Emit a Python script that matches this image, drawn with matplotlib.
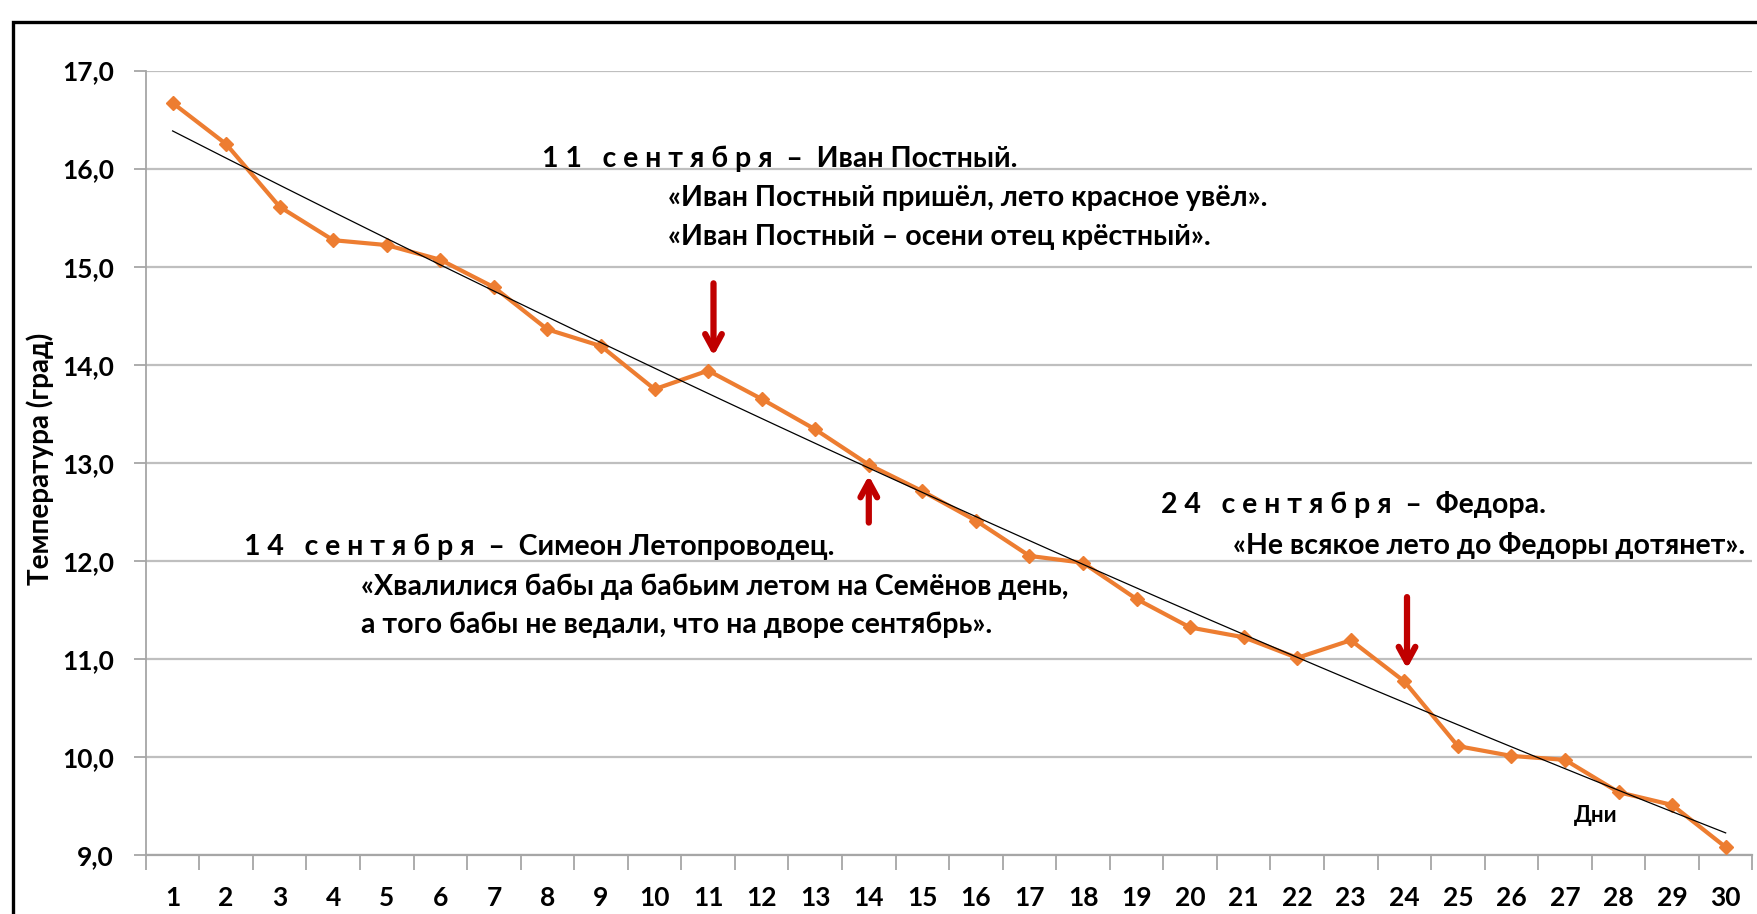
import numpy as np
import matplotlib
matplotlib.use("Agg")
import matplotlib.pyplot as plt
from matplotlib.patches import Rectangle

# средняя температура по дням сентября
days = list(range(1, 31))
temps = [16.67, 16.25, 15.61, 15.27, 15.22, 15.07, 14.79, 14.36, 14.19, 13.75,
         13.94, 13.65, 13.34, 12.98, 12.71, 12.41, 12.05, 11.98, 11.61, 11.32,
         11.22, 11.01, 11.19, 10.77, 10.11, 10.01, 9.97, 9.64, 9.51, 9.08]
yticks = [9, 10, 11, 12, 13, 14, 15, 16, 17]
ytick_labels = ["9,0", "10,0", "11,0", "12,0", "13,0", "14,0", "15,0", "16,0", "17,0"]

# дни с пометками (стрелки)
arrow_days = [11.1, 14, 24.05]
arrow_from = [14.83, 12.39, 11.63]
arrow_to = [14.09, 12.87, 10.90]

plt.rcParams['font.family'] = ['Lato', 'DejaVu Sans']
plt.rcParams['font.weight'] = 'bold'

fig = plt.figure(figsize=(17.57, 9.14), dpi=100)
ax = fig.add_axes([0.083, 0.0646, 0.9144, 0.8582])

# рамка вокруг всей диаграммы
fig.patches.append(Rectangle((0.0072, -0.02), 1.05, 0.996, transform=fig.transFigure,
                             fill=False, edgecolor='black', linewidth=2.4))

ax.plot(days, temps, color='#ED7D31', linewidth=3, marker='D', markersize=7, zorder=3)

# полиномиальный тренд (2-я степень)
c = np.polyfit(days, temps, 2)
xt = np.linspace(days[0], days[-1], 200)
ax.plot(xt, np.polyval(c, xt), color='black', linewidth=0.9, zorder=4)

for d, y0, y1 in zip(arrow_days, arrow_from, arrow_to):
    ax.annotate('', xy=(d, y1), xytext=(d, y0),
                arrowprops=dict(arrowstyle='->, head_width=0.6, head_length=1.1',
                                color='#C00000', lw=4.5, shrinkA=0, shrinkB=0))

ax.set_xlim(0.5, 30.5)
ax.set_ylim(9, 17)
ax.set_yticks(yticks)
ax.set_yticklabels(ytick_labels)
ax.set_xticks(days)
ax.set_xticks(np.arange(0.5, 31, 1), minor=True)
ax.tick_params(axis='x', which='major', length=0, labelsize=19, pad=22)
ax.tick_params(axis='x', which='minor', length=11, color='#A6A6A6', width=1.3)
ax.tick_params(axis='y', length=9, color='#A6A6A6', width=1.3, labelsize=19, pad=14)
for lab in ax.get_xticklabels() + ax.get_yticklabels():
    lab.set_fontweight('bold')

ax.grid(axis='y', color='#BFBFBF', linewidth=1.6)
ax.set_axisbelow(True)
for s in ['top', 'right']:
    ax.spines[s].set_visible(False)
ax.spines['left'].set_color('#A6A6A6')
ax.spines['bottom'].set_color('#A6A6A6')
ax.spines['left'].set_linewidth(1.3)
ax.spines['bottom'].set_linewidth(1.6)

ax.set_ylabel('Температура (град)', fontsize=20, fontweight='bold')
ax.yaxis.set_label_coords(-0.057, 0.505)

fs = 20.5
ax.text(7.9, 16.10, '1 1   с е н т я б р я  –  Иван Постный.', fontsize=fs, va='center')
ax.text(10.25, 15.70, '«Иван Постный пришёл, лето красное увёл».', fontsize=fs, va='center')
ax.text(10.25, 15.30, '«Иван Постный – осени отец крёстный».', fontsize=fs, va='center')
ax.text(2.34, 12.14, '1 4   с е н т я б р я  –  Симеон Летопроводец.', fontsize=fs, va='center')
ax.text(4.52, 11.74, '«Хвалилися бабы да бабьим летом на Семёнов день,', fontsize=fs, va='center')
ax.text(4.52, 11.35, 'а того бабы не ведали, что на дворе сентябрь».', fontsize=fs, va='center')
ax.text(19.46, 12.57, '2 4   с е н т я б р я  –  Федора.', fontsize=fs, va='center')
ax.text(20.80, 12.16, '«Не всякое лето до Федоры дотянет».', fontsize=fs, va='center')
ax.text(27.17, 9.40, 'Дни', fontsize=16, va='center')

fig.savefig('out.png', dpi=100, facecolor='white')
